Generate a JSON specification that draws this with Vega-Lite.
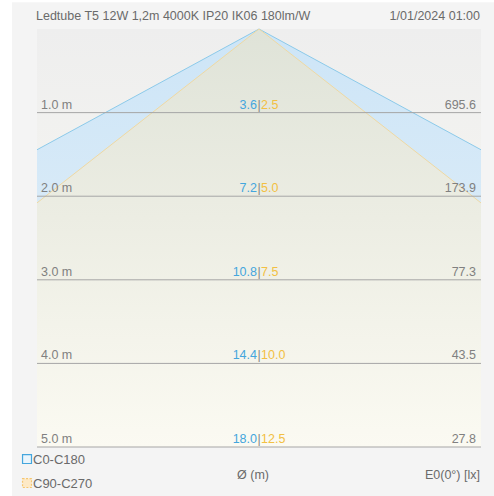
{
  "$schema": "https://vega.github.io/schema/vega-lite/v6.json",
  "width": 494,
  "height": 496,
  "padding": 0,
  "autosize": {"type": "none"},
  "background": "#ffffff",
  "config": {"view": {"stroke": null}, "text": {"font": "Liberation Sans", "fontSize": 12.5}},
  "datasets": {
    "panel": [{"x": -2.893, "x2": 2.7523, "y": -0.32, "y2": 5.586}],
    "plot": [{"x": -2.6, "x2": 2.6, "y": 0, "y2": 5}],
    "coneC0": [{"x": -2.6, "y": 1.4444}, {"x": 0, "y": 0}, {"x": 2.6, "y": 1.4444}],
    "coneC90": [{"x": -2.6, "y": 2.08}, {"x": 0, "y": 0}, {"x": 2.6, "y": 2.08}],
    "levels": [
      {"y": 1, "xl": -2.6, "xr": 2.6, "label": "1.0 m", "d1": "3.6", "d2": "2.5", "e": "695.6"},
      {"y": 2, "xl": -2.6, "xr": 2.6, "label": "2.0 m", "d1": "7.2", "d2": "5.0", "e": "173.9"},
      {"y": 3, "xl": -2.6, "xr": 2.6, "label": "3.0 m", "d1": "10.8", "d2": "7.5", "e": "77.3"},
      {"y": 4, "xl": -2.6, "xr": 2.6, "label": "4.0 m", "d1": "14.4", "d2": "10.0", "e": "43.5"},
      {"y": 5, "xl": -2.6, "xr": 2.6, "label": "5.0 m", "d1": "18.0", "d2": "12.5", "e": "27.8"}
    ]
  },
  "layer": [
    {
      "data": {"name": "panel"},
      "mark": {"type": "rect", "color": "#f4f4f4"},
      "encoding": {
        "x": {"field": "x", "type": "quantitative", "scale": {"domain": [-3.0334, 2.7523], "nice": false, "zero": false}, "axis": null},
        "y": {"field": "y", "type": "quantitative", "scale": {"domain": [-0.347, 5.586], "reverse": true, "nice": false, "zero": false}, "axis": null},
        "x2": {"field": "x2"}, "y2": {"field": "y2"}
      }
    },
    {
      "data": {"name": "plot"},
      "mark": {"type": "rect", "color": {"gradient": "linear", "x1": 0, "y1": 0, "x2": 0, "y2": 1, "stops": [{"offset": 0, "color": "#eeeeee"}, {"offset": 1, "color": "#fcfbf3"}]}},
      "encoding": {
        "x": {"field": "x", "type": "quantitative"},
        "y": {"field": "y", "type": "quantitative"},
        "x2": {"field": "x2"}, "y2": {"field": "y2"}
      }
    },
    {
      "data": {"name": "coneC0"},
      "mark": {"type": "area", "color": {"gradient": "linear", "x1": 0, "y1": 0, "x2": 0, "y2": 1, "stops": [{"offset": 0, "color": "#cde5f7"}, {"offset": 1, "color": "#e6f1f8"}]}},
      "encoding": {
        "x": {"field": "x", "type": "quantitative"},
        "y": {"field": "y", "type": "quantitative"},
        "y2": {"datum": 5}
      }
    },
    {
      "data": {"name": "coneC90"},
      "mark": {"type": "area", "color": {"gradient": "linear", "x1": 0, "y1": 0, "x2": 0, "y2": 1, "stops": [{"offset": 0, "color": "#dfe3d8"}, {"offset": 0.45, "color": "#ecede3"}, {"offset": 1, "color": "#fbfaf2"}]}},
      "encoding": {
        "x": {"field": "x", "type": "quantitative"},
        "y": {"field": "y", "type": "quantitative"},
        "y2": {"datum": 5}
      }
    },
    {
      "data": {"name": "coneC0"},
      "mark": {"type": "line", "color": "#8ccaea", "strokeWidth": 1},
      "encoding": {
        "x": {"field": "x", "type": "quantitative"},
        "y": {"field": "y", "type": "quantitative"}
      }
    },
    {
      "data": {"name": "coneC90"},
      "mark": {"type": "line", "color": "#f0d9a2", "strokeWidth": 1},
      "encoding": {
        "x": {"field": "x", "type": "quantitative"},
        "y": {"field": "y", "type": "quantitative"}
      }
    },
    {
      "data": {"name": "levels"},
      "mark": {"type": "rule", "color": "#a6a6a6", "strokeWidth": 1},
      "encoding": {
        "x": {"field": "xl", "type": "quantitative"},
        "x2": {"field": "xr"},
        "y": {"field": "y", "type": "quantitative"}
      }
    },
    {
      "data": {"name": "levels"},
      "mark": {"type": "text", "align": "left", "baseline": "alphabetic", "dy": -4, "dx": 4, "color": "#808080"},
      "encoding": {
        "x": {"field": "xl", "type": "quantitative"},
        "y": {"field": "y", "type": "quantitative"},
        "text": {"field": "label"}
      }
    },
    {
      "data": {"name": "levels"},
      "mark": {"type": "text", "align": "right", "baseline": "alphabetic", "dy": -4, "dx": -5, "color": "#808080"},
      "encoding": {
        "x": {"field": "xr", "type": "quantitative"},
        "y": {"field": "y", "type": "quantitative"},
        "text": {"field": "e"}
      }
    },
    {
      "data": {"name": "levels"},
      "mark": {"type": "text", "align": "right", "baseline": "alphabetic", "dy": -4, "dx": -2, "color": "#44a6dd"},
      "encoding": {
        "x": {"datum": 0, "type": "quantitative"},
        "y": {"field": "y", "type": "quantitative"},
        "text": {"field": "d1"}
      }
    },
    {
      "data": {"name": "levels"},
      "mark": {"type": "text", "align": "center", "baseline": "alphabetic", "dy": -4, "color": "#888888", "text": "|"},
      "encoding": {
        "x": {"datum": 0, "type": "quantitative"},
        "y": {"field": "y", "type": "quantitative"}
      }
    },
    {
      "data": {"name": "levels"},
      "mark": {"type": "text", "align": "left", "baseline": "alphabetic", "dy": -4, "dx": 2, "color": "#f2c043"},
      "encoding": {
        "x": {"datum": 0, "type": "quantitative"},
        "y": {"field": "y", "type": "quantitative"},
        "text": {"field": "d2"}
      }
    },
    {
      "data": {"values": [{"x": -2.612, "y": -0.153, "t": "Ledtube T5 12W 1,2m 4000K IP20 IK06 180lm/W"}]},
      "mark": {"type": "text", "align": "left", "baseline": "middle", "color": "#6a6a6a"},
      "encoding": {
        "x": {"field": "x", "type": "quantitative"},
        "y": {"field": "y", "type": "quantitative"},
        "text": {"field": "t"}
      }
    },
    {
      "data": {"values": [{"x": -2.647, "y": 5.156, "t": "C0-C180"}, {"x": -2.647, "y": 5.443, "t": "C90-C270"}]},
      "mark": {"type": "text", "align": "left", "baseline": "middle", "color": "#6a6a6a", "fontSize": 13},
      "encoding": {
        "x": {"field": "x", "type": "quantitative"},
        "y": {"field": "y", "type": "quantitative"},
        "text": {"field": "t"}
      }
    },
    {
      "data": {"values": [{"x": 2.588, "y": -0.153, "t": "1/01/2024 01:00"}, {"x": 2.588, "y": 5.335, "t": "E0(0°) [lx]"}]},
      "mark": {"type": "text", "align": "right", "baseline": "middle", "color": "#6a6a6a"},
      "encoding": {
        "x": {"field": "x", "type": "quantitative"},
        "y": {"field": "y", "type": "quantitative"},
        "text": {"field": "t"}
      }
    },
    {
      "data": {"values": [{"x": -0.07, "y": 5.335, "t": "Ø (m)"}]},
      "mark": {"type": "text", "align": "center", "baseline": "middle", "color": "#6a6a6a"},
      "encoding": {
        "x": {"field": "x", "type": "quantitative"},
        "y": {"field": "y", "type": "quantitative"},
        "text": {"field": "t"}
      }
    },
    {
      "data": {"values": [{"x": -2.717, "y": 5.144}]},
      "mark": {"type": "square", "size": 80, "color": "#eaf5fc", "stroke": "#44a6dd", "strokeWidth": 1.2, "opacity": 1},
      "encoding": {
        "x": {"field": "x", "type": "quantitative"},
        "y": {"field": "y", "type": "quantitative"}
      }
    },
    {
      "data": {"values": [{"x": -2.717, "y": 5.431}]},
      "mark": {"type": "square", "size": 80, "color": "#fde9c6", "stroke": "#f5c670", "strokeWidth": 1.2, "strokeDash": [2, 1.5], "opacity": 1},
      "encoding": {
        "x": {"field": "x", "type": "quantitative"},
        "y": {"field": "y", "type": "quantitative"}
      }
    }
  ]
}
